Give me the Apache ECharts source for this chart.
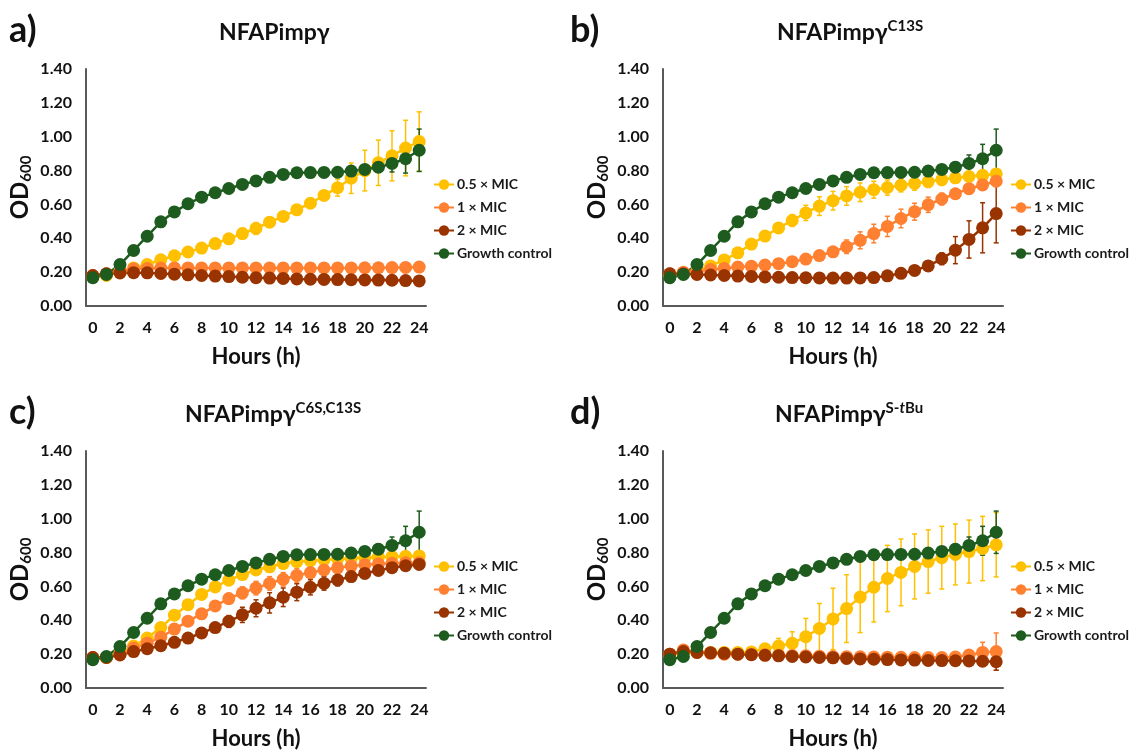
<!DOCTYPE html>
<html>
<head>
<meta charset="utf-8">
<script src="https://cdn.jsdelivr.net/npm/echarts@6/dist/echarts.min.js"></script>
<style>
  html, body { margin: 0; padding: 0; background: #fff; }
  #main { width: 1133px; height: 753px; }
</style>
</head>
<body>
<div id="main"></div>
<script>
// x categories (hours)
var hours = ['0', '1', '2', '3', '4', '5', '6', '7', '8', '9', '10', '11', '12',
  '13', '14', '15', '16', '17', '18', '19', '20', '21', '22', '23', '24'];
var legendNames = ['0.5 × MIC', '1 × MIC', '2 × MIC', 'Growth control'];

// growth control (same in every panel)
var ctrl = [0.167, 0.186, 0.245, 0.328, 0.412, 0.497, 0.556, 0.604, 0.643, 0.669, 0.694, 0.718, 0.739,
  0.76, 0.777, 0.787, 0.788, 0.789, 0.79, 0.797, 0.807, 0.82, 0.842, 0.87, 0.92];
var ctrlErr = [0.005, 0.005, 0.008, 0.01, 0.01, 0.01, 0.01, 0.01, 0.01, 0.01, 0.01, 0.01, 0.01,
  0.01, 0.01, 0.01, 0.01, 0.01, 0.01, 0.015, 0.02, 0.03, 0.05, 0.085, 0.125];

// a) NFAPimpγ
var aHalf = [0.17, 0.18, 0.20, 0.225, 0.245, 0.273, 0.297, 0.319, 0.342, 0.369, 0.397, 0.428, 0.458,
  0.495, 0.529, 0.568, 0.607, 0.653, 0.699, 0.755, 0.80, 0.846, 0.887, 0.933, 0.971];
var aHalfErr = [0.005, 0.005, 0.005, 0.01, 0.01, 0.01, 0.012, 0.015, 0.02, 0.025, 0.03, 0.03, 0.035,
  0.03, 0.025, 0.015, 0.015, 0.015, 0.05, 0.09, 0.12, 0.134, 0.148, 0.164, 0.176];
var aOne = [0.18, 0.19, 0.21, 0.22, 0.222, 0.224, 0.225, 0.225, 0.225, 0.225, 0.225, 0.225, 0.225,
  0.225, 0.225, 0.225, 0.225, 0.225, 0.225, 0.225, 0.226, 0.226, 0.227, 0.228, 0.23];
var aOneErr = [0.005, 0.005, 0.005, 0.005, 0.005, 0.005, 0.005, 0.005, 0.005, 0.005, 0.005, 0.005, 0.005,
  0.005, 0.005, 0.005, 0.005, 0.005, 0.005, 0.005, 0.005, 0.005, 0.005, 0.005, 0.008];
var aTwo = [0.18, 0.19, 0.195, 0.197, 0.196, 0.192, 0.188, 0.184, 0.18, 0.177, 0.174, 0.17, 0.167,
  0.165, 0.163, 0.16, 0.158, 0.157, 0.156, 0.155, 0.154, 0.153, 0.152, 0.15, 0.148];
var aTwoErr = [0.005, 0.005, 0.005, 0.005, 0.005, 0.005, 0.005, 0.005, 0.005, 0.005, 0.005, 0.005, 0.005,
  0.005, 0.005, 0.005, 0.005, 0.005, 0.005, 0.005, 0.005, 0.005, 0.005, 0.005, 0.005];

// b) NFAPimpγ C13S
var bHalf = [0.18, 0.19, 0.21, 0.237, 0.272, 0.314, 0.366, 0.413, 0.461, 0.505, 0.55, 0.59, 0.622,
  0.65, 0.672, 0.687, 0.70, 0.714, 0.724, 0.735, 0.747, 0.757, 0.765, 0.772, 0.78];
var bHalfErr = [0.005, 0.005, 0.01, 0.01, 0.015, 0.015, 0.02, 0.025, 0.03, 0.035, 0.045, 0.055, 0.055,
  0.055, 0.055, 0.05, 0.045, 0.04, 0.04, 0.035, 0.035, 0.03, 0.025, 0.02, 0.02];
var bOne = [0.19, 0.20, 0.205, 0.215, 0.222, 0.23, 0.235, 0.242, 0.25, 0.262, 0.277, 0.298, 0.32,
  0.35, 0.388, 0.428, 0.47, 0.517, 0.557, 0.598, 0.632, 0.663, 0.693, 0.715, 0.737];
var bOneErr = [0.005, 0.005, 0.005, 0.01, 0.01, 0.01, 0.01, 0.01, 0.01, 0.015, 0.02, 0.025, 0.03,
  0.04, 0.05, 0.055, 0.06, 0.055, 0.05, 0.045, 0.035, 0.03, 0.03, 0.03, 0.03];
var bTwo = [0.19, 0.19, 0.186, 0.183, 0.18, 0.177, 0.175, 0.172, 0.17, 0.168, 0.167, 0.166, 0.165,
  0.165, 0.166, 0.168, 0.178, 0.193, 0.21, 0.237, 0.279, 0.33, 0.393, 0.462, 0.546];
var bTwoErr = [0.005, 0.005, 0.005, 0.005, 0.005, 0.005, 0.005, 0.005, 0.005, 0.005, 0.005, 0.005, 0.005,
  0.005, 0.005, 0.005, 0.005, 0.01, 0.015, 0.02, 0.035, 0.08, 0.11, 0.148, 0.173];

// c) NFAPimpγ C6S,C13S
var cHalf = [0.18, 0.18, 0.205, 0.248, 0.295, 0.357, 0.43, 0.492, 0.553, 0.597, 0.637, 0.67, 0.697,
  0.716, 0.735, 0.746, 0.752, 0.758, 0.762, 0.766, 0.77, 0.773, 0.776, 0.778, 0.78];
var cHalfErr = [0.005, 0.005, 0.005, 0.01, 0.01, 0.015, 0.015, 0.015, 0.015, 0.015, 0.015, 0.02, 0.02,
  0.02, 0.02, 0.02, 0.02, 0.015, 0.015, 0.015, 0.015, 0.015, 0.015, 0.015, 0.015];
var cOne = [0.18, 0.18, 0.20, 0.236, 0.265, 0.30, 0.348, 0.395, 0.438, 0.485, 0.528, 0.562, 0.59,
  0.618, 0.642, 0.665, 0.682, 0.697, 0.71, 0.72, 0.728, 0.733, 0.737, 0.74, 0.74];
var cOneErr = [0.005, 0.005, 0.005, 0.01, 0.01, 0.015, 0.02, 0.02, 0.02, 0.025, 0.03, 0.035, 0.04,
  0.04, 0.04, 0.04, 0.035, 0.03, 0.03, 0.025, 0.02, 0.02, 0.02, 0.015, 0.015];
var cTwo = [0.18, 0.18, 0.195, 0.215, 0.232, 0.25, 0.27, 0.295, 0.325, 0.357, 0.393, 0.432, 0.471,
  0.503, 0.536, 0.566, 0.595, 0.618, 0.638, 0.658, 0.677, 0.694, 0.711, 0.722, 0.73];
var cTwoErr = [0.005, 0.005, 0.005, 0.01, 0.01, 0.01, 0.01, 0.01, 0.015, 0.02, 0.035, 0.045, 0.05,
  0.06, 0.055, 0.05, 0.045, 0.04, 0.035, 0.03, 0.025, 0.02, 0.02, 0.015, 0.015];

// d) NFAPimpγ S-tBu
var dHalf = [0.20, 0.21, 0.21, 0.21, 0.21, 0.21, 0.213, 0.232, 0.248, 0.264, 0.303, 0.352, 0.408,
  0.469, 0.537, 0.595, 0.647, 0.683, 0.718, 0.747, 0.77, 0.789, 0.806, 0.824, 0.846];
var dHalfErr = [0.005, 0.005, 0.005, 0.005, 0.005, 0.005, 0.01, 0.015, 0.045, 0.068, 0.108, 0.147, 0.181,
  0.20, 0.21, 0.205, 0.196, 0.197, 0.192, 0.187, 0.185, 0.18, 0.186, 0.19, 0.19];
var dOne = [0.20, 0.225, 0.21, 0.205, 0.20, 0.20, 0.198, 0.196, 0.194, 0.192, 0.19, 0.188, 0.186,
  0.185, 0.184, 0.183, 0.182, 0.181, 0.18, 0.18, 0.18, 0.183, 0.195, 0.21, 0.215];
var dOneErr = [0.005, 0.01, 0.005, 0.005, 0.005, 0.005, 0.005, 0.005, 0.005, 0.005, 0.005, 0.005, 0.005,
  0.005, 0.005, 0.005, 0.005, 0.005, 0.005, 0.005, 0.008, 0.01, 0.03, 0.06, 0.11];
var dTwo = [0.20, 0.215, 0.21, 0.208, 0.205, 0.20, 0.197, 0.193, 0.19, 0.186, 0.183, 0.18, 0.178,
  0.175, 0.172, 0.17, 0.168, 0.166, 0.165, 0.163, 0.162, 0.161, 0.16, 0.158, 0.155];
var dTwoErr = [0.005, 0.005, 0.005, 0.005, 0.005, 0.005, 0.005, 0.005, 0.005, 0.005, 0.005, 0.005, 0.005,
  0.005, 0.005, 0.005, 0.005, 0.005, 0.005, 0.005, 0.005, 0.005, 0.01, 0.02, 0.05];

var colors = ['#FFC000', '#FF8030', '#993300', '#1E5B1E'];
var font = 'Lato';

var panels = [
  { letter: 'a)', title: '{t|NFAPimpγ}', vals: [aHalf, aOne, aTwo, ctrl], errs: [aHalfErr, aOneErr, aTwoErr, ctrlErr] },
  { letter: 'b)', title: '{t|NFAPimpγ}{s|C13S}', vals: [bHalf, bOne, bTwo, ctrl], errs: [bHalfErr, bOneErr, bTwoErr, ctrlErr] },
  { letter: 'c)', title: '{t|NFAPimpγ}{s|C6S,C13S}', vals: [cHalf, cOne, cTwo, ctrl], errs: [cHalfErr, cOneErr, cTwoErr, ctrlErr] },
  { letter: 'd)', title: '{t|NFAPimpγ}{s|S-}{si|t}{s|Bu}', vals: [dHalf, dOne, dTwo, ctrl], errs: [dHalfErr, dOneErr, dTwoErr, ctrlErr] }
];
// layout of each panel
var layout = [
  { gl: 86, gt: 69, lx: 9, ly: 12, tx: 219, ty: 19, legx: 433, legy: 177 },
  { gl: 663, gt: 69, lx: 570, ly: 12, tx: 777, ty: 19, legx: 1010, legy: 177 },
  { gl: 86, gt: 451, lx: 9, ly: 394, tx: 185, ty: 401, legx: 433, legy: 559 },
  { gl: 663, gt: 451, lx: 570, ly: 394, tx: 775, ty: 401, legx: 1010, legy: 559 }
];

// 误差线
function errSeries(vals, errs, color, gi) {
  var data = vals.map(function (v, i) { return [i, v - errs[i], v + errs[i]]; });
  return {
    type: 'custom',
    name: 'err',
    xAxisIndex: gi,
    yAxisIndex: gi,
    silent: true,
    encode: { x: 0, y: [1, 2] },
    data: data,
    renderItem: function (params, api) {
      var hi = api.coord([api.value(0), api.value(2)]);
      var lo = api.coord([api.value(0), api.value(1)]);
      var st = { stroke: color, lineWidth: 1.5 };
      return {
        type: 'group',
        children: [
          { type: 'line', shape: { x1: hi[0], y1: hi[1], x2: lo[0], y2: lo[1] }, style: st },
          { type: 'line', shape: { x1: hi[0] - 2.5, y1: hi[1], x2: hi[0] + 2.5, y2: hi[1] }, style: st },
          { type: 'line', shape: { x1: lo[0] - 2.5, y1: lo[1], x2: lo[0] + 2.5, y2: lo[1] }, style: st }
        ]
      };
    }
  };
}

var option = {
  backgroundColor: '#fff',
  animation: false,
  textStyle: { fontFamily: font },
  title: [],
  legend: [],
  grid: [],
  xAxis: [],
  yAxis: [],
  series: []
};

panels.forEach(function (p, gi) {
  var L = layout[gi];
  option.grid.push({ left: L.gl, top: L.gt, width: 340, height: 237 });
  option.title.push({
    text: p.letter, left: L.lx, top: L.ly, padding: 0,
    textStyle: { fontFamily: font, fontSize: 36, fontWeight: 'bold', color: '#111' }
  });
  option.title.push({
    text: p.title, left: L.tx, top: L.ty, padding: 0,
    textStyle: {
      rich: {
        t: { fontFamily: font, fontSize: 23, fontWeight: 'bold', color: '#111', lineHeight: 27 },
        s: { fontFamily: font, fontSize: 15, fontWeight: 'bold', color: '#111', lineHeight: 15, verticalAlign: 'top' },
        si: { fontFamily: font, fontSize: 15, fontWeight: 'bold', fontStyle: 'italic', color: '#111', lineHeight: 15, verticalAlign: 'top' }
      }
    }
  });
  option.legend.push({
    data: legendNames,
    orient: 'vertical',
    left: L.legx,
    top: L.legy,
    padding: 0,
    itemWidth: 20,
    itemHeight: 13,
    itemGap: 8,
    textStyle: { fontFamily: font, fontSize: 14, fontWeight: 'bold', color: '#1a1a1a', lineHeight: 15, padding: [0, 0, 0, -2] }
  });
  option.xAxis.push({
    type: 'category',
    gridIndex: gi,
    data: hours,
    boundaryGap: true,
    axisLine: { lineStyle: { color: '#595959', width: 2 } },
    axisTick: { show: false },
    axisLabel: { interval: 1, fontFamily: font, fontSize: 16, fontWeight: 'bold', color: '#111', margin: 14 },
    name: 'Hours (h)',
    nameLocation: 'middle',
    nameGap: 40,
    nameTextStyle: { fontFamily: font, fontSize: 22, fontWeight: 'bold', color: '#111' }
  });
  option.yAxis.push({
    type: 'value',
    gridIndex: gi,
    min: 0,
    max: 1.4,
    interval: 0.2,
    splitLine: { show: false },
    axisLine: { show: true, lineStyle: { color: '#595959', width: 2 } },
    axisTick: { show: false },
    axisLabel: {
      fontFamily: font, fontSize: 16, fontWeight: 'bold', color: '#111', margin: 14,
      formatter: function (v) { return v.toFixed(2); }
    },
    name: '{a|OD}{b|600}',
    nameLocation: 'middle',
    nameRotate: 90,
    nameGap: 52,
    nameTextStyle: {
      rich: {
        a: { fontFamily: font, fontSize: 24, fontWeight: 'bold', color: '#111', lineHeight: 27 },
        b: { fontFamily: font, fontSize: 15, fontWeight: 'bold', color: '#111', lineHeight: 15, verticalAlign: 'bottom' }
      }
    }
  });
  p.vals.forEach(function (vals, j) {
    option.series.push(errSeries(vals, p.errs[j], colors[j], gi));
    option.series.push({
      name: legendNames[j],
      type: 'line',
      xAxisIndex: gi,
      yAxisIndex: gi,
      data: vals,
      symbol: 'circle',
      symbolSize: 13,
      showSymbol: true,
      showAllSymbol: true,
      color: colors[j],
      lineStyle: { width: 2.5, color: colors[j] },
      itemStyle: { color: colors[j] }
    });
  });
});

var myChart = echarts.init(document.getElementById('main'));
myChart.setOption(option);
</script>
</body>
</html>
